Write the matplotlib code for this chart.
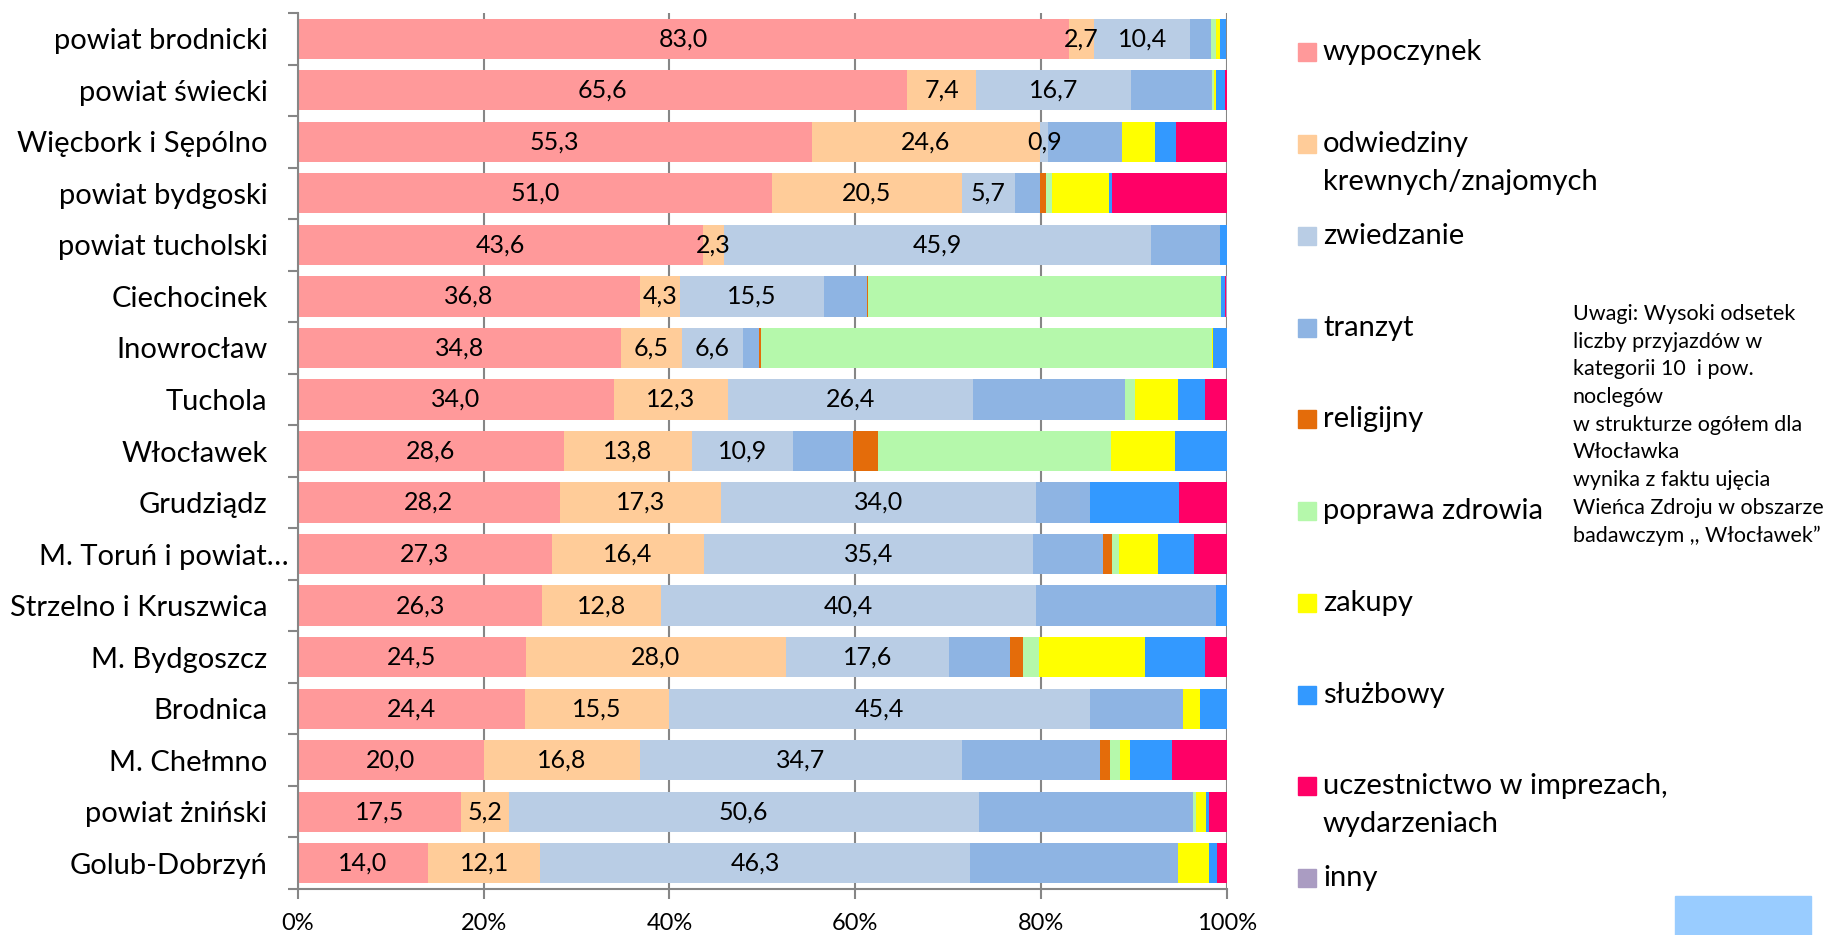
import numpy as np
import matplotlib.pyplot as plt
from matplotlib.patches import Rectangle
from matplotlib.transforms import ScaledTranslation

plt.rcParams['font.family'] = ['Lato', 'DejaVu Sans']

regions = ['powiat brodnicki', 'powiat świecki', 'Więcbork i Sępólno', 'powiat bydgoski',
           'powiat tucholski', 'Ciechocinek', 'Inowrocław', 'Tuchola', 'Włocławek',
           'Grudziądz', 'M. Toruń i powiat…', 'Strzelno i Kruszwica', 'M. Bydgoszcz',
           'Brodnica', 'M. Chełmno', 'powiat żniński', 'Golub-Dobrzyń']

categories = ['wypoczynek', 'odwiedziny\nkrewnych/znajomych', 'zwiedzanie', 'tranzyt',
              'religijny', 'poprawa zdrowia', 'zakupy', 'służbowy',
              'uczestnictwo w imprezach,\nwydarzeniach', 'inny']

wypoczynek = [83.0, 65.6, 55.3, 51.0, 43.6, 36.8, 34.8, 34.0, 28.6, 28.2, 27.3, 26.3, 24.5, 24.4, 20.0, 17.5, 14.0]
odwiedziny = [2.7, 7.4, 24.6, 20.5, 2.3, 4.3, 6.5, 12.3, 13.8, 17.3, 16.4, 12.8, 28.0, 15.5, 16.8, 5.2, 12.1]
zwiedzanie = [10.4, 16.7, 0.9, 5.7, 45.9, 15.5, 6.6, 26.4, 10.9, 34.0, 35.4, 40.4, 17.6, 45.4, 34.7, 50.6, 46.3]
tranzyt = [2.2, 8.7, 7.9, 2.7, 7.5, 4.7, 1.7, 16.4, 6.5, 5.8, 7.6, 19.3, 6.6, 10.0, 14.9, 23.1, 22.4]
religijny = [0.0, 0.0, 0.0, 0.6, 0.0, 0.1, 0.3, 0.0, 2.7, 0.0, 1.0, 0.0, 1.4, 0.0, 1.0, 0.0, 0.0]
zdrowie = [0.5, 0.2, 0.0, 0.7, 0.0, 38.0, 48.5, 1.0, 25.0, 0.0, 0.7, 0.0, 1.7, 0.0, 1.1, 0.3, 0.0]
zakupy = [0.5, 0.3, 3.6, 6.1, 0.0, 0.0, 0.1, 4.7, 6.9, 0.0, 4.2, 0.0, 11.4, 1.8, 1.1, 1.1, 3.3]
sluzbowy = [0.6, 0.9, 2.2, 0.3, 0.7, 0.4, 1.5, 2.9, 5.6, 9.6, 3.9, 1.2, 6.5, 2.9, 4.5, 0.3, 0.9]
imprezy = [0.0, 0.2, 5.5, 12.4, 0.0, 0.1, 0.0, 2.3, 0.0, 5.1, 3.5, 0.0, 2.3, 0.0, 5.9, 1.9, 1.0]
inny = [0.0, 0.0, 0.0, 0.0, 0.0, 0.1, 0.0, 0.0, 0.0, 0.0, 0.0, 0.0, 0.0, 0.0, 0.0, 0.0, 0.0]

series = [wypoczynek, odwiedziny, zwiedzanie, tranzyt, religijny, zdrowie, zakupy, sluzbowy, imprezy, inny]
colors = ['#FF999A', '#FFCC99', '#B9CDE5', '#8EB4E3', '#E46C0A', '#B5F8AB',
          '#FFFF00', '#3399FF', '#FF0066', '#AA9CC2']

note = ('Uwagi: Wysoki odsetek\nliczby przyjazdów w\nkategorii 10  i pow.\nnoclegów\n'
        'w strukturze ogółem dla\nWłocławka\nwynika z faktu ujęcia\n'
        'Wieńca Zdroju w obszarze\nbadawczym ,, Włocławek”')

W, H = 1832, 935
fig = plt.figure(figsize=(W / 100, H / 100), dpi=100)
ax = fig.add_axes([298 / W, 1 - 889 / H, (1226.7 - 298) / W, (889 - 13) / H])

y = np.arange(len(regions))
left = np.zeros(len(regions))
for i, (vals, col) in enumerate(zip(series, colors)):
    vals = np.array(vals)
    ax.barh(y, vals, left=left, height=0.78, color=col, zorder=2)
    if i < 3:
        for yy, l, v in zip(y, left, vals):
            ax.text(l + v / 2, yy, f'{v:.1f}'.replace('.', ','), ha='center', va='center',
                    fontsize=18, color='black', zorder=3)
    left += vals

ax.set_xlim(0, 100)
ax.set_ylim(len(regions) - 0.5, -0.5)
ax.set_xticks(np.arange(0, 101, 20))
ax.set_xticklabels([f'{v}%' for v in range(0, 101, 20)], fontsize=17)
ax.set_yticks(y)
ax.set_yticklabels(regions, fontsize=21)
ax.set_yticks(np.arange(-0.5, len(regions)), minor=True)
ax.tick_params(axis='y', which='major', length=0, pad=22)
ax.tick_params(axis='y', which='minor', length=7, color='#868686', width=1.5)
ax.tick_params(axis='x', length=7, color='#868686', width=1.5, pad=10)
ax.xaxis.grid(True, color='#868686', linewidth=1.5, zorder=0)
ax.set_axisbelow(True)
for s in ['top', 'right']:
    ax.spines[s].set_visible(False)
for s in ['left', 'bottom']:
    ax.spines[s].set_color('#868686')
    ax.spines[s].set_linewidth(1.5)

# the truncated label runs further right, up to the tick marks
lbl = ax.get_yticklabels()[10]
lbl.set_transform(lbl.get_transform() + ScaledTranslation(0.21, 0, fig.dpi_scale_trans))

# legend drawn by hand so markers sit on the first line of text
leg_y = [52, 144, 236, 328, 419, 511, 603, 695, 786, 878]
for lab, col, ly in zip(categories, colors, leg_y):
    fig.add_artist(Rectangle((1298 / W, 1 - (ly + 9) / H), 18 / W, 18 / H,
                             transform=fig.transFigure, color=col))
    fig.text(1323 / W, 1 - (ly - 13) / H, lab, fontsize=21, va='top', ha='left',
             linespacing=1.55)

fig.text(1573 / W, 1 - 304 / H, note, fontsize=15.5, va='top', ha='left', linespacing=1.48)

fig.add_artist(Rectangle((1675 / W, 0), (1811 - 1675) / W, 39 / H,
                         transform=fig.transFigure, color='#99CCFF'))

fig.savefig('out.png', dpi=100)
